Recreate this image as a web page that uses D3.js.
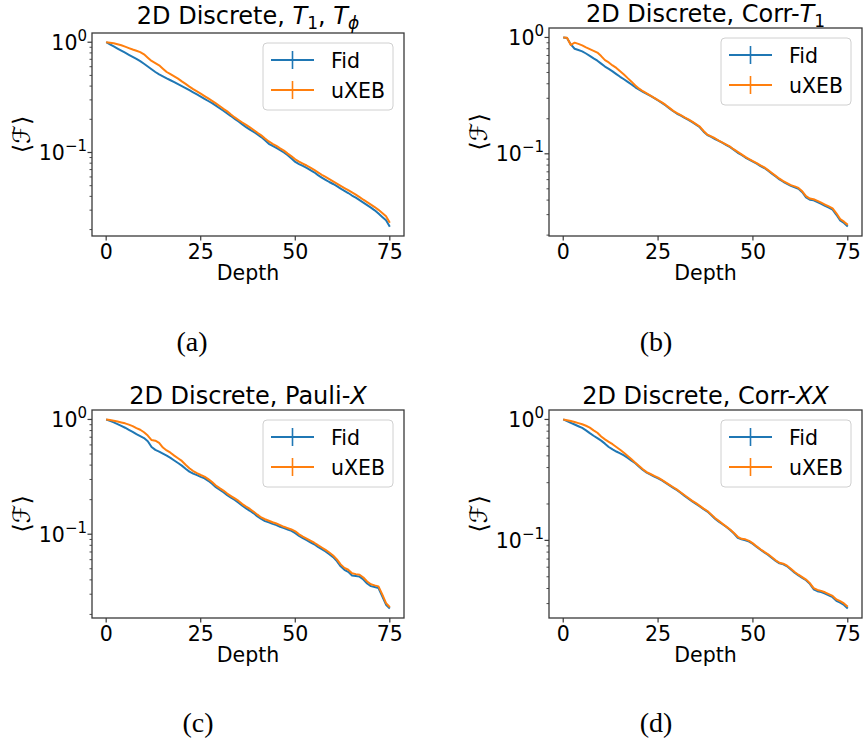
<!DOCTYPE html>
<html>
<head>
<meta charset="utf-8">
<script src="https://cdn.jsdelivr.net/npm/d3@7"></script>
<style>
  body { margin: 0; background: #fff; }
  svg { font-family: "DejaVu Sans", sans-serif; }
  .tick-label { font-size: 20.5px; fill: #000; }
  .axis-label { font-size: 20.5px; fill: #000; }
  .title { font-size: 24px; fill: #000; }
  .legend-text { font-size: 20.5px; fill: #000; }
  .caption { font-family: "Liberation Serif", "DejaVu Serif", serif; font-size: 28px; fill: #000; }
</style>
</head>
<body>
<svg id="chart" width="863" height="745"></svg>
<script>
const depths = d3.range(0, 76)

// (a) T1, Tphi
const fidT1Tphi = [1.000, 0.957, 0.916, 0.877, 0.839, 0.804, 0.769, 0.736, 0.705, 0.673,
  0.638, 0.603, 0.569, 0.537, 0.511, 0.490, 0.470, 0.452, 0.435, 0.417,
  0.400, 0.384, 0.367, 0.351, 0.336, 0.321, 0.307, 0.293, 0.280, 0.266,
  0.252, 0.239, 0.226, 0.214, 0.202, 0.191, 0.180, 0.170, 0.161, 0.154,
  0.146, 0.138, 0.129, 0.120, 0.115, 0.110, 0.105, 0.100, 0.0944, 0.0881,
  0.0822, 0.0785, 0.0755, 0.0724, 0.0692, 0.0661, 0.0624, 0.0592, 0.0565, 0.0540,
  0.0518, 0.0495, 0.0470, 0.0449, 0.0429, 0.0407, 0.0389, 0.0370, 0.0351, 0.0333,
  0.0316, 0.0299, 0.0279, 0.0260, 0.0243, 0.0212]
const uxebT1Tphi = [1.000, 0.991, 0.977, 0.959, 0.938, 0.912, 0.885, 0.859, 0.836, 0.813,
  0.776, 0.724, 0.676, 0.646, 0.617, 0.575, 0.537, 0.513, 0.490, 0.468,
  0.442, 0.419, 0.396, 0.376, 0.359, 0.342, 0.325, 0.309, 0.294, 0.279,
  0.264, 0.249, 0.236, 0.221, 0.208, 0.197, 0.187, 0.178, 0.169, 0.160,
  0.151, 0.143, 0.134, 0.126, 0.120, 0.115, 0.109, 0.104, 0.0977, 0.0923,
  0.0867, 0.0828, 0.0794, 0.0762, 0.0728, 0.0695, 0.0661, 0.0628, 0.0600, 0.0573,
  0.0547, 0.0522, 0.0499, 0.0476, 0.0455, 0.0435, 0.0415, 0.0394, 0.0373, 0.0355,
  0.0337, 0.0320, 0.0302, 0.0283, 0.0264, 0.0231]

// (b) Corr-T1
const fidCorrT1 = [1.000, 0.989, 0.871, 0.800, 0.780, 0.760, 0.728, 0.695, 0.661, 0.631,
  0.596, 0.562, 0.537, 0.511, 0.484, 0.459, 0.437, 0.415, 0.394, 0.373,
  0.356, 0.341, 0.327, 0.314, 0.301, 0.287, 0.274, 0.260, 0.245, 0.232,
  0.221, 0.213, 0.204, 0.196, 0.187, 0.178, 0.169, 0.155, 0.145, 0.140,
  0.134, 0.129, 0.124, 0.119, 0.114, 0.108, 0.102, 0.0977, 0.0929, 0.0891,
  0.0855, 0.0822, 0.0785, 0.0755, 0.0716, 0.0676, 0.0638, 0.0603, 0.0575, 0.0552,
  0.0531, 0.0516, 0.0501, 0.0468, 0.0422, 0.0403, 0.0398, 0.0385, 0.0372, 0.0357,
  0.0345, 0.0331, 0.0299, 0.0268, 0.0254, 0.0237]
const uxebCorrT1 = [1.000, 0.995, 0.861, 0.902, 0.881, 0.855, 0.822, 0.794, 0.767, 0.741,
  0.692, 0.638, 0.610, 0.575, 0.547, 0.513, 0.481, 0.447, 0.417, 0.387,
  0.363, 0.345, 0.330, 0.316, 0.303, 0.289, 0.277, 0.263, 0.248, 0.234,
  0.224, 0.215, 0.206, 0.198, 0.189, 0.180, 0.171, 0.157, 0.146, 0.141,
  0.136, 0.130, 0.125, 0.120, 0.115, 0.109, 0.104, 0.0989, 0.0940, 0.0902,
  0.0865, 0.0832, 0.0794, 0.0764, 0.0724, 0.0684, 0.0646, 0.0611, 0.0583, 0.0560,
  0.0538, 0.0525, 0.0509, 0.0476, 0.0432, 0.0412, 0.0407, 0.0394, 0.0380, 0.0366,
  0.0353, 0.0340, 0.0308, 0.0275, 0.0261, 0.0245]

// (c) Pauli-X
const fidPauliX = [1.000, 0.973, 0.942, 0.912, 0.879, 0.847, 0.813, 0.780, 0.745, 0.716,
  0.689, 0.646, 0.575, 0.543, 0.525, 0.504, 0.484, 0.462, 0.439, 0.417,
  0.396, 0.372, 0.351, 0.337, 0.327, 0.316, 0.307, 0.292, 0.275, 0.257,
  0.244, 0.232, 0.219, 0.208, 0.199, 0.188, 0.177, 0.168, 0.160, 0.152,
  0.143, 0.136, 0.130, 0.127, 0.123, 0.120, 0.116, 0.113, 0.110, 0.107,
  0.102, 0.0966, 0.0923, 0.0887, 0.0851, 0.0817, 0.0776, 0.0741, 0.0708, 0.0668,
  0.0631, 0.0582, 0.0525, 0.0490, 0.0470, 0.0437, 0.0432, 0.0427, 0.0403, 0.0372,
  0.0353, 0.0347, 0.0339, 0.0288, 0.0243, 0.0225]
const uxebPauliX = [1.000, 0.989, 0.975, 0.959, 0.942, 0.925, 0.902, 0.875, 0.841, 0.813,
  0.773, 0.724, 0.661, 0.653, 0.624, 0.569, 0.537, 0.513, 0.484, 0.459,
  0.435, 0.403, 0.376, 0.355, 0.340, 0.328, 0.318, 0.302, 0.285, 0.266,
  0.252, 0.240, 0.226, 0.215, 0.205, 0.195, 0.183, 0.174, 0.166, 0.157,
  0.148, 0.140, 0.135, 0.131, 0.127, 0.124, 0.120, 0.116, 0.113, 0.110,
  0.106, 0.0998, 0.0953, 0.0916, 0.0879, 0.0843, 0.0802, 0.0766, 0.0731, 0.0692,
  0.0653, 0.0603, 0.0546, 0.0509, 0.0490, 0.0457, 0.0449, 0.0443, 0.0419, 0.0387,
  0.0366, 0.0358, 0.0351, 0.0299, 0.0251, 0.0231]

// (d) Corr-XX
const fidCorrXX = [1.000, 0.968, 0.938, 0.908, 0.879, 0.851, 0.813, 0.771, 0.733, 0.700,
  0.668, 0.631, 0.592, 0.565, 0.543, 0.525, 0.504, 0.481, 0.457, 0.434,
  0.407, 0.382, 0.363, 0.350, 0.337, 0.326, 0.313, 0.299, 0.285, 0.272,
  0.260, 0.247, 0.233, 0.221, 0.210, 0.200, 0.191, 0.181, 0.173, 0.162,
  0.151, 0.143, 0.136, 0.129, 0.122, 0.114, 0.105, 0.102, 0.100, 0.0977,
  0.0933, 0.0881, 0.0836, 0.0794, 0.0759, 0.0716, 0.0676, 0.0646, 0.0634, 0.0610,
  0.0575, 0.0540, 0.0513, 0.0490, 0.0468, 0.0437, 0.0394, 0.0380, 0.0373, 0.0363,
  0.0351, 0.0339, 0.0316, 0.0305, 0.0292, 0.0273]
const uxebCorrXX = [1.000, 0.986, 0.971, 0.953, 0.933, 0.912, 0.887, 0.855, 0.813, 0.776,
  0.724, 0.684, 0.653, 0.624, 0.592, 0.562, 0.531, 0.499, 0.468, 0.439,
  0.412, 0.387, 0.367, 0.354, 0.341, 0.330, 0.316, 0.302, 0.288, 0.275,
  0.263, 0.249, 0.236, 0.224, 0.212, 0.203, 0.193, 0.183, 0.175, 0.164,
  0.153, 0.145, 0.137, 0.130, 0.123, 0.115, 0.107, 0.103, 0.102, 0.0989,
  0.0944, 0.0891, 0.0845, 0.0804, 0.0767, 0.0724, 0.0684, 0.0653, 0.0641, 0.0617,
  0.0582, 0.0547, 0.0520, 0.0497, 0.0474, 0.0443, 0.0403, 0.0389, 0.0382, 0.0372,
  0.0359, 0.0347, 0.0325, 0.0314, 0.0301, 0.0282]

const xTicks = [0, 25, 50, 75]
const yTicks = [1, 0.1]
const yTickExponents = ["0", "\u22121"]
const seriesNames = ["Fid", "uXEB"]
const colors = ["#1f77b4", "#ff7f0e"]

const panels = [
  {
    title: [{ t: "2D Discrete, " }, { t: "T", i: true }, { t: "1", sub: true }, { t: ", " }, { t: "T", i: true }, { t: "\u03d5", i: true, sub: true }],
    series: [fidT1Tphi, uxebT1Tphi],
    box: { x: 92, y: 33, w: 312, h: 203 },
    titleY: 24,
    caption: "(a)",
    captionPos: [192, 351],
  },
  {
    title: [{ t: "2D Discrete, Corr-" }, { t: "T", i: true }, { t: "1", sub: true }],
    series: [fidCorrT1, uxebCorrT1],
    box: { x: 549, y: 28, w: 313, h: 208 },
    titleY: 22,
    caption: "(b)",
    captionPos: [656, 351],
  },
  {
    title: [{ t: "2D Discrete, Pauli-" }, { t: "X", i: true }],
    series: [fidPauliX, uxebPauliX],
    box: { x: 92, y: 410, w: 312, h: 208 },
    titleY: 404,
    caption: "(c)",
    captionPos: [198, 732],
  },
  {
    title: [{ t: "2D Discrete, Corr-" }, { t: "XX", i: true }],
    series: [fidCorrXX, uxebCorrXX],
    box: { x: 549, y: 410, w: 313, h: 208 },
    titleY: 404,
    caption: "(d)",
    captionPos: [656, 732],
  },
]

const svg = d3.select("#chart")

panels.forEach((p) => drawPanel(p))

function drawPanel(p) {
  const { x, y, w, h } = p.box
  const g = svg.append("g").attr("transform", `translate(${x},${y})`)

  // matplotlib-style 5% margins
  const xScale = d3.scaleLinear().domain([-3.75, 78.75]).range([0, w])
  const allVals = p.series.flat()
  const lo = Math.log10(d3.min(allVals))
  const hi = Math.log10(d3.max(allVals))
  const pad = (hi - lo) * 0.05
  const yScale = d3.scaleLog().domain([10 ** (lo - pad), 10 ** (hi + pad)]).range([h, 0])

  // lines
  const line = d3
    .line()
    .x((d, i) => xScale(depths[i]))
    .y((d) => yScale(d))

  p.series.forEach((s, k) => {
    g.append("path")
      .datum(s)
      .attr("d", line)
      .attr("fill", "none")
      .attr("stroke", colors[k])
      .attr("stroke-width", 2)
      .attr("stroke-linejoin", "round")
  })

  // spines
  g.append("rect")
    .attr("width", w)
    .attr("height", h)
    .attr("fill", "none")
    .attr("stroke", "#3a3a3a")
    .attr("stroke-width", 1.3)

  // x ticks
  xTicks.forEach((t) => {
    g.append("line")
      .attr("x1", xScale(t))
      .attr("x2", xScale(t))
      .attr("y1", h)
      .attr("y2", h + 4.5)
      .attr("stroke", "#3a3a3a")
      .attr("stroke-width", 1.2)
    g.append("text")
      .classed("tick-label", true)
      .attr("x", xScale(t))
      .attr("y", h + 23)
      .attr("text-anchor", "middle")
      .text(t)
  })

  g.append("text")
    .classed("axis-label", true)
    .attr("x", w / 2)
    .attr("y", h + 44)
    .attr("text-anchor", "middle")
    .text("Depth")

  // y minor ticks
  const [dLo, dHi] = yScale.domain()
  const minor = []
  for (let e = -3; e <= 0; e++) {
    for (let k = 2; k <= 9; k++) {
      const v = k * 10 ** e
      if (v >= dLo && v <= dHi) minor.push(v)
    }
  }
  g.selectAll("line.minor")
    .data(minor)
    .join("line")
    .classed("minor", true)
    .attr("x1", -2.5)
    .attr("x2", 0)
    .attr("y1", (d) => yScale(d))
    .attr("y2", (d) => yScale(d))
    .attr("stroke", "#3a3a3a")
    .attr("stroke-width", 0.9)

  // y major ticks
  yTicks.forEach((t, i) => {
    g.append("line")
      .attr("x1", -4.5)
      .attr("x2", 0)
      .attr("y1", yScale(t))
      .attr("y2", yScale(t))
      .attr("stroke", "#3a3a3a")
      .attr("stroke-width", 1.2)
    const lbl = g
      .append("text")
      .classed("tick-label", true)
      .attr("x", -5)
      .attr("y", yScale(t) + 7.5)
      .attr("text-anchor", "end")
    lbl.append("tspan").text("10")
    lbl.append("tspan").attr("dy", -9).style("font-size", "15px").text(yTickExponents[i])
  })

  // y label
  g.append("text")
    .classed("axis-label", true)
    .attr("transform", `translate(${-62},${h / 2}) rotate(-90)`)
    .attr("text-anchor", "middle")
    .style("font-size", "24px")
    .text("\u27e8\u2131\u27e9")

  // title
  const title = svg
    .append("text")
    .classed("title", true)
    .attr("x", x + w / 2)
    .attr("y", p.titleY)
    .attr("text-anchor", "middle")
  let shifted = false
  p.title.forEach((seg) => {
    const ts = title.append("tspan").text(seg.t)
    if (seg.i) ts.style("font-style", "italic")
    if (seg.sub && !shifted) {
      ts.attr("dy", 5).style("font-size", "17px")
      shifted = true
    } else if (seg.sub) {
      ts.style("font-size", "17px")
    } else if (shifted) {
      ts.attr("dy", -5)
      shifted = false
    }
  })

  drawLegend(g, w)

  svg.append("text")
    .classed("caption", true)
    .attr("x", p.captionPos[0])
    .attr("y", p.captionPos[1])
    .attr("text-anchor", "middle")
    .text(p.caption)
}

function drawLegend(g, w) {
  const lw = 130
  const lh = 67
  const lg = g.append("g").attr("transform", `translate(${w - 11 - lw},${10})`)
  lg.append("rect")
    .attr("width", lw)
    .attr("height", lh)
    .attr("rx", 4)
    .attr("fill", "#fff")
    .attr("fill-opacity", 0.8)
    .attr("stroke", "#d0d0d0")
    .attr("stroke-width", 1)

  seriesNames.forEach((name, i) => {
    const cy = 17 + i * 30
    lg.append("line")
      .attr("x1", 8)
      .attr("x2", 51)
      .attr("y1", cy)
      .attr("y2", cy)
      .attr("stroke", colors[i])
      .attr("stroke-width", 2)
    lg.append("line")
      .attr("x1", 29.5)
      .attr("x2", 29.5)
      .attr("y1", cy - 9)
      .attr("y2", cy + 9)
      .attr("stroke", colors[i])
      .attr("stroke-width", 1.6)
    lg.append("text")
      .classed("legend-text", true)
      .attr("x", 68)
      .attr("y", cy + 7.5)
      .text(name)
  })
}
</script>
</body>
</html>
